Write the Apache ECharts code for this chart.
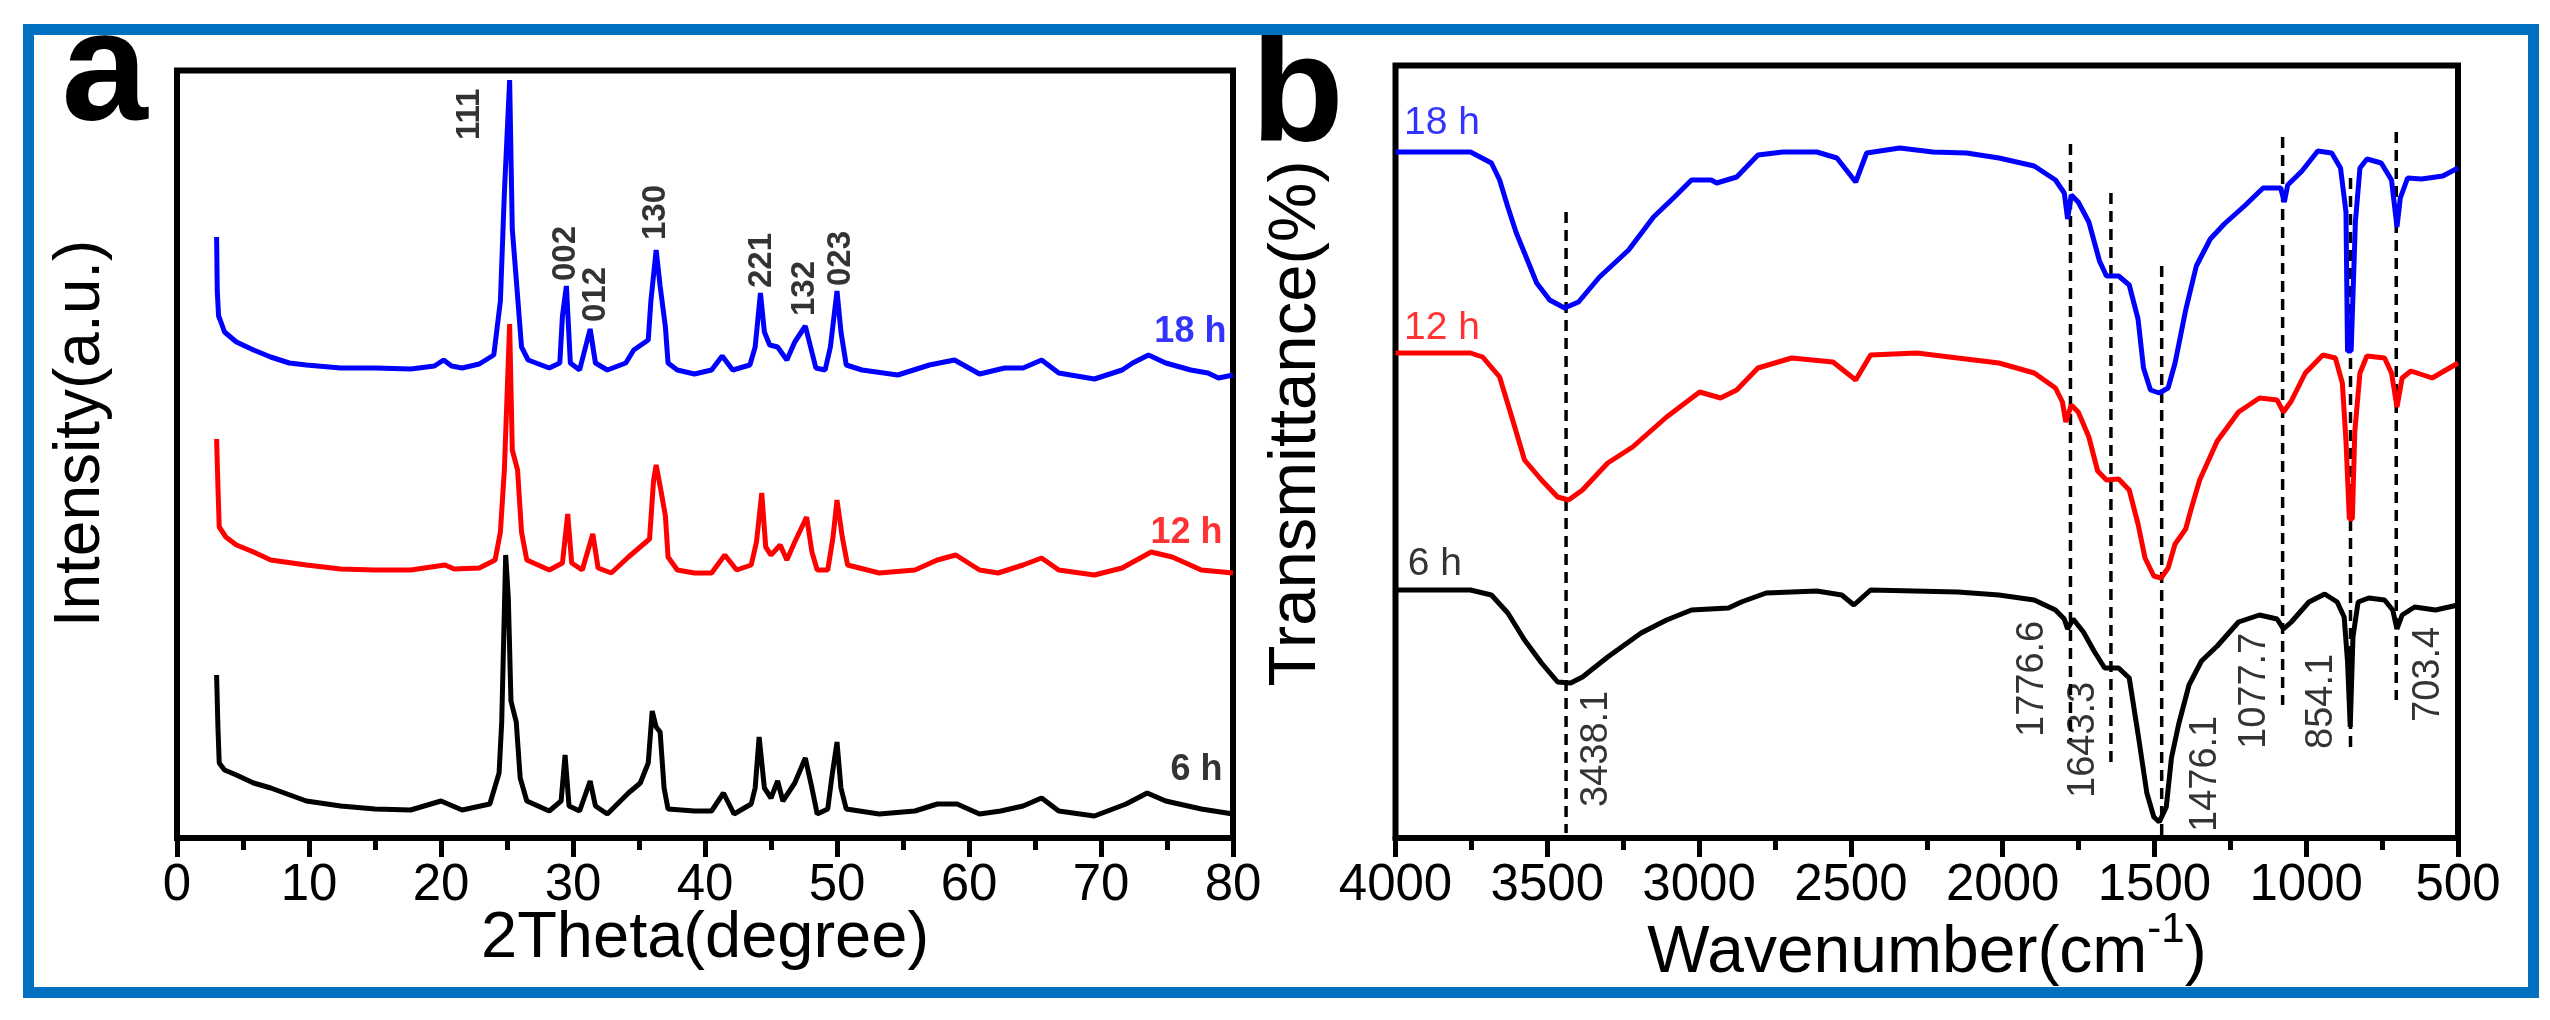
<!DOCTYPE html>
<html><head><meta charset="utf-8">
<script src="https://cdn.jsdelivr.net/npm/echarts@6/dist/echarts.min.js"></script>
<style>html,body{margin:0;padding:0;background:#fff}#c{width:2550px;height:1020px}</style>
</head><body><div id="c"></div>
<script>
const FONT = 'Arial, "Liberation Sans", sans-serif';

// ---------- Panel a : XRD (2Theta, intensity a.u. offset) ----------
const xrd18h = [[3.0,601],[3.05,547],[3.15,522],[3.3,517],[3.6,506],[4.5,496],[5.8,488],[7.1,481],[8.5,475],[9.8,473],[12.4,470],[15,470],[17.7,469],[19.5,472],[20.2,478],[20.8,472],[21.6,470],[22.9,474],[24.0,483],[24.5,537],[24.8,645],[25.2,758],[25.4,609],[25.8,542],[26.1,491],[26.6,478],[28.2,470],[29.0,475],[29.2,522],[29.5,552],[29.8,475],[30.5,468],[31.3,509],[31.7,475],[32.6,468],[34.0,475],[34.6,488],[35.7,498],[35.9,537],[36.3,588],[36.6,552],[37.0,511],[37.2,475],[37.9,468],[39.2,464],[40.5,468],[41.3,482],[42.1,468],[43.4,473],[43.8,491],[44.2,545],[44.5,506],[44.9,493],[45.5,491],[46.2,478],[46.8,496],[47.6,512],[48.0,491],[48.4,470],[49.1,468],[49.5,491],[50.0,547],[50.3,506],[50.7,473],[51.9,468],[54.6,463],[57.0,473],[58.9,478],[60.8,464],[62.7,470],[64.1,470],[65.5,478],[66.8,465],[69.5,459],[71.6,468],[72.4,475],[73.6,483],[74.9,475],[76.8,468],[78.1,465],[78.9,460],[80,463]];
const xrd12h = [[3.0,399],[3.1,352],[3.2,311],[3.7,301],[4.5,293],[5.8,286],[7.1,278],[9.8,273],[12.4,269],[15,268],[17.7,268],[20.3,273],[21.0,269],[22.9,270],[24.1,278],[24.5,306],[24.8,368],[25.2,514],[25.4,388],[25.8,368],[26.1,306],[26.5,278],[28.2,268],[29.2,275],[29.6,324],[29.9,275],[30.7,268],[31.5,304],[31.9,270],[32.9,265],[34.2,281],[35.8,299],[36.1,357],[36.3,373],[36.6,352],[37.0,322],[37.2,281],[37.9,268],[39.2,265],[40.5,265],[41.5,283],[42.4,268],[43.5,273],[43.9,296],[44.3,345],[44.6,291],[45.0,283],[45.7,293],[46.2,278],[46.8,296],[47.7,321],[48.1,286],[48.5,268],[49.3,268],[49.7,301],[50.0,338],[50.4,301],[50.8,273],[53.2,265],[55.9,268],[57.6,278],[59.0,283],[60.8,268],[62.2,265],[64.1,273],[65.5,280],[66.8,268],[69.5,263],[71.6,270],[73.8,286],[75.4,281],[77.6,268],[80,265]];
const xrd6h = [[3.0,163],[3.1,111],[3.2,75],[3.6,68],[4.5,63],[5.8,55],[7.1,50],[9.8,37],[12.4,32],[15,29],[17.7,28],[20.0,37],[21.6,28],[23.7,34],[24.4,65],[24.6,116],[24.9,283],[25.1,240],[25.3,137],[25.7,116],[26.0,60],[26.5,37],[28.2,27],[29.1,37],[29.4,83],[29.7,32],[30.5,27],[31.3,57],[31.7,32],[32.6,24],[34.2,45],[35.1,55],[35.7,75],[36.0,127],[36.3,111],[36.6,106],[36.9,50],[37.2,29],[39.2,27],[40.5,27],[41.4,45],[42.2,24],[43.5,34],[43.8,50],[44.1,101],[44.5,50],[45.0,40],[45.5,57],[45.9,37],[46.8,55],[47.6,80],[48.1,50],[48.5,24],[49.3,29],[49.6,60],[50.0,96],[50.3,50],[50.7,29],[53.2,24],[55.9,27],[57.6,34],[59.1,34],[60.8,24],[62.4,27],[64.1,32],[65.5,40],[66.8,27],[69.5,22],[71.9,34],[73.5,45],[74.9,37],[77.6,29],[80,24]];
const hklNames = ['111','002','012','130','221','132','023'];
const hklPos = [[22.2,698],[29.5,557],[31.7,516],[36.3,598],[44.3,550],[47.6,522],[50.3,552]];
const xrdCurveNames = ['18 h','12 h','6 h'];
const xrdCurveLabelPos = [[79.5,506],[79.2,305],[79.2,68]];

// ---------- Panel b : FTIR (wavenumber, transmittance offset) ----------
const ir18h = [[4000,686],[3753,686],[3684,675],[3657,658],[3630,631],[3602,605],[3575,585],[3535,555],[3492,538],[3443,530],[3397,536],[3328,561],[3232,588],[3150,621],[3081,641],[3025,658],[2960,658],[2942,655],[2876,661],[2806,683],[2724,686],[2612,686],[2546,680],[2484,656],[2448,685],[2339,690],[2230,686],[2119,685],[2012,680],[1896,672],[1826,658],[1797,645],[1786,619],[1774,643],[1751,636],[1716,616],[1681,577],[1658,562],[1618,562],[1583,553],[1554,519],[1536,470],[1513,448],[1484,445],[1455,450],[1432,475],[1397,528],[1362,572],[1316,599],[1270,614],[1200,633],[1142,650],[1084,650],[1072,636],[1061,653],[1014,667],[962,687],[916,685],[887,670],[869,626],[864,487],[852,487],[838,616],[823,670],[800,679],[753,675],[719,658],[701,611],[690,640],[666,660],[620,659],[550,662],[500,670]];
const ir12h = [[4000,485],[3753,485],[3713,481],[3657,461],[3617,421],[3575,378],[3519,358],[3466,341],[3430,338],[3384,348],[3301,375],[3219,391],[3107,421],[2998,446],[2929,440],[2876,448],[2806,470],[2695,480],[2559,476],[2484,458],[2435,483],[2283,485],[2148,480],[2012,475],[1896,465],[1826,450],[1803,436],[1792,416],[1774,433],[1751,426],[1716,401],[1687,367],[1658,358],[1618,359],[1583,348],[1554,314],[1531,280],[1502,262],[1478,260],[1455,270],[1432,294],[1397,309],[1380,328],[1351,358],[1293,397],[1223,426],[1154,440],[1096,438],[1075,426],[1049,437],[1003,465],[945,483],[904,480],[881,455],[869,397],[858,319],[848,319],[840,406],[823,465],[800,482],[742,480],[719,465],[701,431],[684,460],[655,467],[585,460],[500,475]];
const ir6h = [[4000,248],[3753,248],[3684,243],[3630,225],[3575,198],[3519,175],[3466,156],[3423,155],[3384,161],[3301,181],[3191,205],[3107,218],[3025,228],[2903,230],[2861,236],[2779,245],[2612,247],[2530,243],[2490,233],[2435,248],[2148,246],[2012,243],[1896,238],[1826,228],[1797,219],[1786,209],[1768,219],[1734,206],[1699,187],[1664,170],[1618,170],[1583,160],[1554,104],[1525,45],[1502,21],[1484,16],[1461,31],[1444,80],[1420,114],[1386,153],[1345,177],[1293,192],[1223,216],[1154,223],[1096,219],[1075,209],[1049,216],[991,236],[939,244],[898,236],[875,221],[864,177],[855,111],[846,201],[829,236],[794,240],[742,238],[715,228],[701,209],[684,223],[643,231],[574,228],[500,233]];
const irPeaks = [3438.1, 1776.6, 1643.3, 1476.1, 1077.7, 854.1, 703.4];
const irPeakNames = ['3438.1','1776.6','1643.3','1476.1','1077.7','854.1','703.4'];
const irDashTop = [626, 694, 645, 572, 701, 660, 706];
const irDashBottom = [5, 98, 75, 1, 133, 89, 138];
const irLabelPos = [[3339,31],[1900,101],[1735,40],[1333,6],[1169,89],[948,89],[596,116]];
const irCurveLabelPos = [[3972,715],[3972,510],[3960,274]];

const colors = ['#0000FF', '#FF0000', '#000000'];

const chart = echarts.init(document.getElementById('c'), null, {renderer: 'canvas'});

function xAxisCommon(extra) {
  return Object.assign({
    type: 'value',
    axisLine: {show: true, onZero: false, lineStyle: {color: '#000', width: 6}},
    axisTick: {show: true, inside: false, length: 19, lineStyle: {color: '#000', width: 5}},
    minorTick: {show: true, splitNumber: 2, length: 12, lineStyle: {color: '#000', width: 5}},
    splitLine: {show: false},
    minorSplitLine: {show: false},
    axisLabel: {color: '#000', fontSize: 51, fontFamily: FONT, margin: 22, formatter: v => String(v)}
  }, extra);
}

const series = [];
[xrd18h, xrd12h, xrd6h].forEach((d, i) => {
  series.push({type: 'line', xAxisIndex: 0, yAxisIndex: 0, data: d, showSymbol: false,
    lineStyle: {color: colors[i], width: 5}, itemStyle: {color: colors[i]}, silent: true});
});
[ir18h, ir12h, ir6h].forEach((d, i) => {
  series.push({type: 'line', xAxisIndex: 1, yAxisIndex: 1, data: d, showSymbol: false,
    lineStyle: {color: colors[i], width: 5}, itemStyle: {color: colors[i]}, silent: true, z: 3});
});
irPeaks.forEach((p, i) => {
  series.push({type: 'line', xAxisIndex: 1, yAxisIndex: 1, showSymbol: false, silent: true, z: 2,
    data: [[p, irDashTop[i]], [p, irDashBottom[i]]],
    lineStyle: {color: '#000', width: 3.5, type: [11, 7]}});
});
const hiddenItem = {color: 'rgba(0,0,0,0)'};
series.push({type: 'scatter', xAxisIndex: 0, yAxisIndex: 0, symbolSize: 1, itemStyle: hiddenItem, silent: true,
  data: hklPos.map((p, i) => ({value: p, name: hklNames[i]})),
  label: {show: true, position: 'inside', formatter: '{b}', rotate: 90, align: 'left', verticalAlign: 'middle',
    color: '#000', fontSize: 33, fontWeight: 'bold', fontFamily: FONT}});
xrdCurveLabelPos.forEach((p, i) => {
  series.push({type: 'scatter', xAxisIndex: 0, yAxisIndex: 0, symbolSize: 1, itemStyle: hiddenItem, silent: true,
    data: [{value: p, name: xrdCurveNames[i]}],
    label: {show: true, position: 'inside', formatter: '{b}', align: 'right', verticalAlign: 'middle',
      color: colors[i], fontSize: 36, fontWeight: 'bold', fontFamily: FONT}});
});
irCurveLabelPos.forEach((p, i) => {
  series.push({type: 'scatter', xAxisIndex: 1, yAxisIndex: 1, symbolSize: 1, itemStyle: hiddenItem, silent: true,
    data: [{value: p, name: xrdCurveNames[i]}],
    label: {show: true, position: 'inside', formatter: '{b}', align: 'left', verticalAlign: 'middle',
      color: colors[i], fontSize: 39, fontFamily: FONT}});
});
series.push({type: 'scatter', xAxisIndex: 1, yAxisIndex: 1, symbolSize: 1, itemStyle: hiddenItem, silent: true,
  data: irLabelPos.map((p, i) => ({value: p, name: irPeakNames[i]})),
  label: {show: true, position: 'inside', formatter: '{b}', rotate: 90, align: 'left', verticalAlign: 'middle',
    color: '#000', fontSize: 38, fontFamily: FONT}});

const option = {
  animation: false,
  backgroundColor: '#fff',
  grid: [
    {left: 177, top: 70.5, width: 1056, height: 767.5, show: true, borderColor: '#000', borderWidth: 6, containLabel: false},
    {left: 1395.5, top: 65.5, width: 1062.5, height: 772.5, show: true, borderColor: '#000', borderWidth: 6, containLabel: false}
  ],
  xAxis: [
    xAxisCommon({gridIndex: 0, min: 0, max: 80, interval: 10}),
    xAxisCommon({gridIndex: 1, min: 500, max: 4000, interval: 500, inverse: true})
  ],
  yAxis: [
    {type: 'value', gridIndex: 0, min: 0, max: 767.5, show: false},
    {type: 'value', gridIndex: 1, min: 0, max: 772.5, show: false}
  ],
  series: series,
  graphic: [
    {type: 'rect', shape: {x: 28.5, y: 29.5, width: 2505, height: 963}, style: {fill: 'none', stroke: '#0070C0', lineWidth: 11}, z: 100},
    {type: 'text', x: 104.5, y: 76, style: {text: 'a', fontSize: 155, fontWeight: 'bold', fontFamily: FONT, fill: '#000', align: 'center', verticalAlign: 'middle'}},
    {type: 'text', x: 1297.5, y: 98.5, style: {text: 'b', fontSize: 152, fontWeight: 'bold', fontFamily: FONT, fill: '#000', align: 'center', verticalAlign: 'middle'}},
    {type: 'text', x: 705, y: 939, style: {text: '2Theta(degree)', fontSize: 65, fontFamily: FONT, fill: '#000', align: 'center', verticalAlign: 'middle'}},
    {type: 'text', x: 1927, y: 954, style: {
      text: '{a|Wavenumber(cm}{s|-1}{a|)}', align: 'center', verticalAlign: 'middle', fill: '#000',
      rich: {a: {fontSize: 66, fontFamily: FONT, lineHeight: 90, fill: '#000'}, s: {fontSize: 42, fontFamily: FONT, lineHeight: 36, verticalAlign: 'top', fill: '#000'}}}},
    {type: 'text', x: 81, y: 433.5, rotation: Math.PI / 2, style: {text: 'Intensity(a.u.)', fontSize: 64, fontFamily: FONT, fill: '#000', align: 'center', verticalAlign: 'middle'}},
    {type: 'text', x: 1297, y: 423.5, rotation: Math.PI / 2, style: {text: 'Transmittance(%)', fontSize: 67, fontFamily: FONT, fill: '#000', align: 'center', verticalAlign: 'middle'}}
  ]
};
chart.setOption(option);
</script>
</body></html>
